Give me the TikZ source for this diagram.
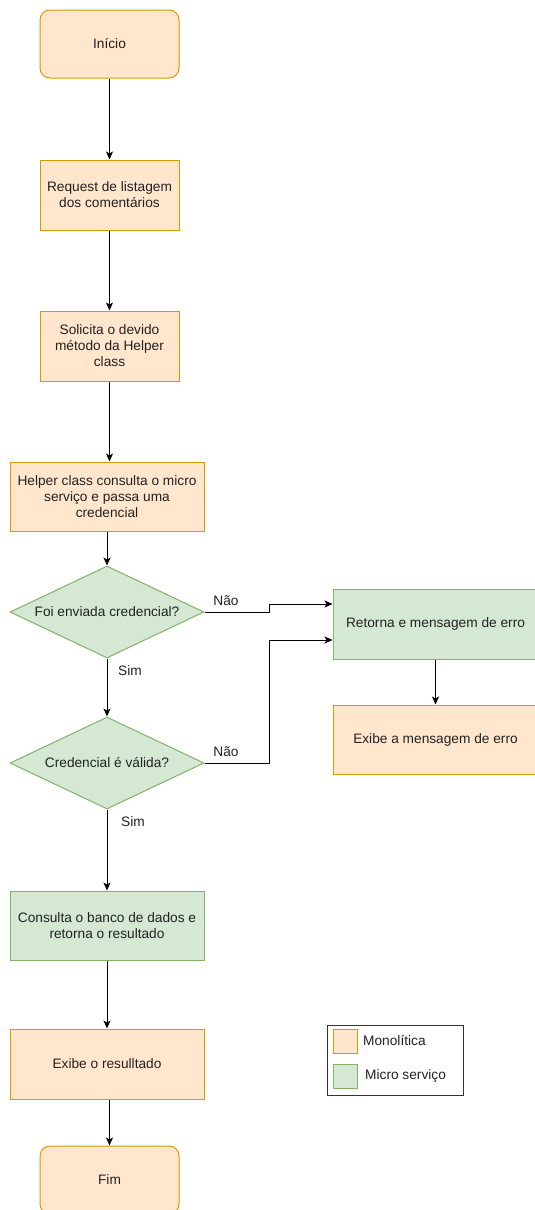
\documentclass[tikz,border=0pt]{standalone}
\usepackage{fontspec}
\setmainfont{Liberation Sans}
\usetikzlibrary{shapes.geometric,arrows.meta,calc}
\definecolor{ofill}{HTML}{FFE6CC}
\definecolor{ostroke}{HTML}{D79B00}
\definecolor{gfill}{HTML}{D5E8D4}
\definecolor{gstroke}{HTML}{82B366}
\definecolor{txt}{HTML}{222222}
\tikzset{
  base/.style={draw, line width=1pt, inner sep=0pt, align=center, text=txt,
    font=\fontsize{13.7}{16}\selectfont},
  mono/.style={base, fill=ofill, draw=ostroke},
  micro/.style={base, fill=gfill, draw=gstroke},
  term/.style={mono, rounded corners=10pt, minimum width=139pt, minimum height=68pt},
  sbox/.style={minimum width=139pt, minimum height=70pt},
  wbox/.style={minimum width=194pt, minimum height=69pt},
  rbox/.style={minimum width=205pt, minimum height=70pt},
  dec/.style={micro, diamond, shape aspect=2.11, minimum width=194pt, minimum height=92pt},
  flow/.style={draw=black, line width=1pt, -{Stealth[length=8pt,width=7pt,inset=2pt]}},
  elabel/.style={text=txt, font=\fontsize{13.7}{16}\selectfont, inner sep=0pt},
  swatch/.style={draw, line width=1pt, minimum width=24pt, minimum height=24pt, inner sep=0pt},
}
\begin{document}
\begin{tikzpicture}[x=1pt, y=-1pt]
\useasboundingbox (0,0) rectangle (535,1210);
\clip (0,0) rectangle (535,1210);
\fill[white] (0,0) rectangle (535,1210);

\node[term] (inicio) at (109.5,44) {Início};
\node[mono, sbox] (req) at (109.5,195) {Request de listagem\\dos comentários};
\node[mono, sbox] (sol) at (109.5,346) {Solicita o devido\\método da Helper\\class};
\node[mono, wbox] (help) at (107,496.5) {Helper class consulta o micro\\serviço e passa uma\\credencial};
\node[dec] (d1) at (107,612) {Foi enviada credencial?};
\node[dec] (d2) at (107,763) {Credencial é válida?};
\node[micro, rbox] (ret) at (435.5,624) {Retorna e mensagem de erro};
\node[mono, rbox, minimum height=69pt] (exerr) at (435.5,739.5) {Exibe a mensagem de erro};
\node[micro, wbox] (cons) at (107,925.5) {Consulta o banco de dados e\\retorna o resultado};
\node[mono, minimum width=194pt, minimum height=70pt] (exres) at (107,1064) {Exibe o resulltado};
\node[term] (fim) at (109.5,1180) {Fim};

% legend
\node[draw=black!80, line width=1pt, minimum width=136pt, minimum height=70pt, inner sep=0pt] (leg) at (395,1060) {};
\node[swatch, fill=ofill, draw=ostroke] (sw1) at (345,1041) {};
\node[swatch, fill=gfill, draw=gstroke] (sw2) at (345,1076) {};
\node[elabel, anchor=west] (l1) at (363,1041) {Monolítica};
\node[elabel, anchor=west] (l2) at (365,1076) {Micro serviço};

% connectors
\draw[flow] (inicio.south) -- (req.north);
\draw[flow] (req.south) -- (sol.north);
\draw[flow] (sol.south) -- (sol.south |- help.north);
\draw[flow] (help.south) -- (d1.north);
\draw[flow] (d1.south) -- (d2.north);
\draw[flow] (d2.south) -- (cons.north);
\draw[flow] (cons.south) -- (exres.north);
\draw[flow] (exres.south -| fim.north) -- (fim.north);
\draw[flow] (ret.south) -- (exerr.north);
\coordinate (r1) at ($(ret.west)+(0,-20)$);
\coordinate (r2) at ($(ret.west)+(0,16)$);
\draw[flow] (d1.east) -- (269,612) |- (r1);
\draw[flow] (d2.east) -- (269,763) |- (r2);

\node[elabel] (n1) at (226,601) {Não};
\node[elabel] (n2) at (226,752) {Não};
\node[elabel] (s1) at (130,671) {Sim};
\node[elabel] (s2) at (133,822) {Sim};
\end{tikzpicture}
\end{document}
